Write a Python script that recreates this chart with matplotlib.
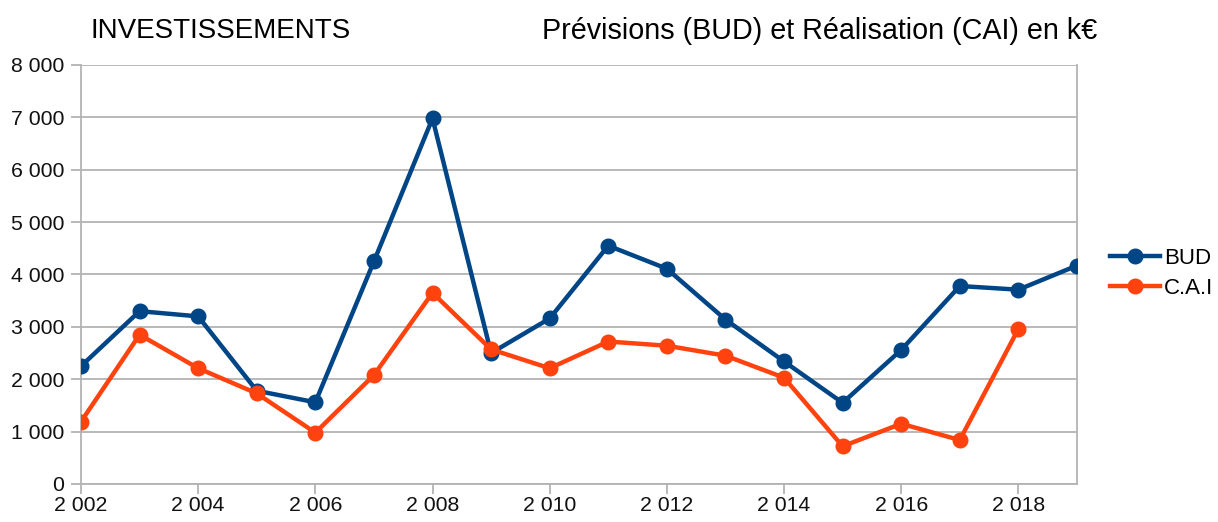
import matplotlib.pyplot as plt
from matplotlib.ticker import FuncFormatter

plt.rcParams['font.family'] = ['Liberation Sans', 'DejaVu Sans']

# ---- data (k€) ----
years = list(range(2002, 2020))
bud = [2250, 3300, 3200, 1780, 1560, 4250, 6980, 2500, 3160,
       4550, 4110, 3140, 2340, 1550, 2560, 3780, 3710, 4170]
cai_years = list(range(2002, 2019))
cai = [1190, 2850, 2210, 1730, 980, 2080, 3650, 2570, 2210,
       2720, 2640, 2450, 2030, 720, 1150, 840, 2960]

def thousands(v, pos):
    return f"{int(round(v)):,}".replace(",", " ")

fig = plt.figure(figsize=(12.18, 5.22), dpi=100)
ax = fig.add_axes([0.0665, 0.0728, 0.8177, 0.8027])

grid_col = '#b3b3b3'
ax.plot(years, bud, color='#004586', lw=3.2, marker='o', ms=10.5, label='BUD', zorder=3)
ax.plot(cai_years, cai, color='#ff420e', lw=3.2, marker='o', ms=10.5, label='C.A.I', zorder=3)

ax.set_xlim(2002, 2019)
ax.set_ylim(0, 8000)
ax.set_yticks(range(0, 8001, 1000))
ax.set_xticks(range(2002, 2019, 2))
ax.yaxis.set_major_formatter(FuncFormatter(thousands))
ax.xaxis.set_major_formatter(FuncFormatter(thousands))
ax.grid(axis='y', color=grid_col, lw=1.3)
ax.set_axisbelow(True)

for s in ['left', 'right', 'bottom']:
    ax.spines[s].set_color(grid_col)
    ax.spines[s].set_linewidth(1.3)
ax.spines['top'].set_visible(False)
ax.tick_params(colors=grid_col, labelcolor='#111111', labelsize=15.3, length=7, width=1.3)
ax.tick_params(axis='y', pad=5)
ax.tick_params(axis='x', pad=2)

fig.text(0.074, 0.94, 'INVESTISSEMENTS', fontsize=20, va='center')
fig.text(0.445, 0.94, 'Prévisions (BUD) et Réalisation (CAI) en k€', fontsize=20.7, va='center')

fig.legend(loc='center left', bbox_to_anchor=(0.911, 0.476), frameon=False,
           fontsize=16, handlelength=2.25, handletextpad=0.2, labelspacing=0.4,
           borderaxespad=0, borderpad=0)

fig.savefig('out.png', dpi=100)
